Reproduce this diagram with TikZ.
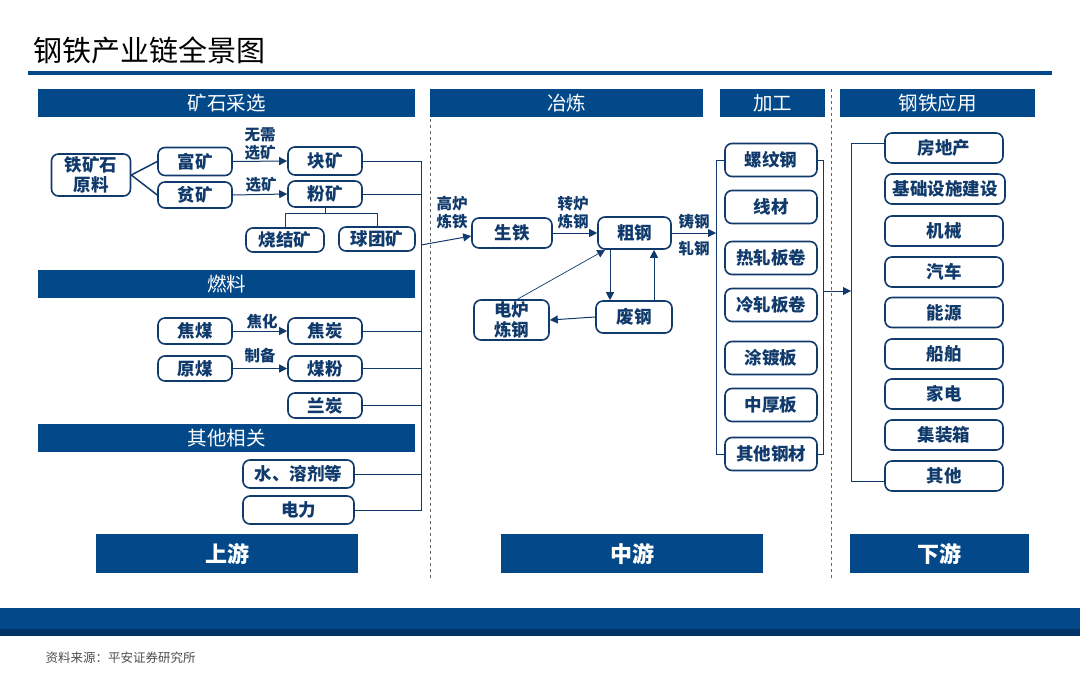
\documentclass[tikz,border=0pt]{standalone}
\usepackage{fontspec}
\newfontfamily\cjk{Noto Sans CJK SC}
\usepackage{tikz}
\usetikzlibrary{calc,arrows.meta}
\definecolor{hdrblue}{RGB}{3,73,138}
\definecolor{deepblue}{RGB}{0,51,102}
\definecolor{lineblue}{RGB}{16,58,107}

\begin{document}
\begin{tikzpicture}[x=1pt,y=-1pt,>={Triangle[length=8pt,width=8pt]},
	hdr/.style={fill=hdrblue,text=white,inner sep=0pt,minimum height=28pt,font=\cjk\fontsize{19.5}{21}\selectfont},
	zone/.style={fill=hdrblue,text=white,inner sep=0pt,minimum height=39pt,font=\cjk\bfseries\fontsize{22}{24}\selectfont},
	bx/.style={draw=lineblue,line width=1.6pt,rounded corners=7pt,fill=white,text=lineblue,inner sep=0pt,minimum width=74pt,minimum height=28pt,align=center,font=\cjk\bfseries\fontsize{17.5}{19.5}\selectfont},
	lbl/.style={text=lineblue,align=center,inner sep=0pt,font=\cjk\bfseries\fontsize{15.5}{18}\selectfont},
	ln/.style={draw=lineblue,line width=1pt}]
			\useasboundingbox (0,0) rectangle (1080,678);
			
			\node[anchor=west,font=\cjk\fontsize{29}{30}\selectfont] (ttl) at (30,50) {钢铁产业链全景图};
			\fill[hdrblue] (28,71) rectangle (1052,75);
			
			\draw[black!60,dashed] (430,89)--(430,578);
			\draw[black!60,dashed] (831,89)--(831,578);
			
			\node[hdr,minimum width=377pt] (hks) at (226.5,103) {矿石采选};
			\node[hdr,minimum width=273pt] (hyl) at (566.5,103) {冶炼};
			\node[hdr,minimum width=105pt] (hjg) at (772.5,103) {加工};
			\node[hdr,minimum width=195pt] (hyy) at (937.5,103) {钢铁应用};
			\node[hdr,minimum width=377pt] (hrl) at (226.5,284) {燃料};
			\node[hdr,minimum width=377pt] (hqt) at (226.5,438) {其他相关};
			
			% 上游
			\coordinate (bus) at (421,161);
			\node[bx,minimum width=79pt,minimum height=42pt] (tks) at (91,175) {铁矿石\\原料};
			\node[bx] (fk) at (195,161.5) {富矿};
			\node[bx,minimum height=26pt] (pk) at (195,195) {贫矿};
			\node[bx] (kk) at (325,161) {块矿};
			\node[bx,minimum height=26pt] (fenk) at (325,194) {粉矿};
			\node[bx,minimum width=78pt,minimum height=24pt] (sjk) at (285,240) {烧结矿};
			\node[bx,minimum width=76pt,minimum height=24pt] (qtk) at (377,239) {球团矿};
			\node[lbl] (lwx) at (260,144) {无需\\选矿};
			\node[lbl] (lxk) at (261,185) {选矿};
			
			\draw[ln,line width=1.5pt] (fk.west) -- (tks.east) -- (pk.west);
			\draw[ln,->] (fk.east) -- (kk.west);
			\draw[ln,->] (pk.east) -- (fenk.west);
			\draw[ln] (fenk.south) -- ++(0,6) coordinate (fz);
			\draw[ln] (sjk.north) |- (fz) -| (qtk.north);
			
			\node[bx,minimum height=26pt] (jm) at (195,331) {焦煤};
			\node[bx,minimum height=26pt] (jt) at (325,331) {焦炭};
			\node[bx,minimum height=25pt] (ym) at (195,368.5) {原煤};
			\node[bx,minimum height=25pt] (mf) at (325,368.5) {煤粉};
			\node[bx,minimum height=25pt] (lt) at (325,405.5) {兰炭};
			\node[lbl] (ljh) at (262,322) {焦化};
			\node[lbl] (lzb) at (260,356) {制备};
			\draw[ln,->] (jm.east) -- (jt.west);
			\draw[ln,->] (ym.east) -- (mf.west);
			
			\node[bx,minimum width=111pt] (shui) at (298.5,474) {水、溶剂等};
			\node[bx,minimum width=111pt] (dl) at (298.5,510) {电力};
			
			\draw[ln] (kk.east) -- (kk.east -| bus) |- (dl.east);
			\foreach \n in {fenk,jt,mf,lt,shui}
				\draw[ln] (\n.east) -- (\n.east -| bus);
			
			% 中游
			\coordinate (bsout) at (421,245);
			\node[bx,minimum width=80pt,minimum height=30pt] (st) at (512,233) {生铁};
			\node[bx,minimum width=73pt,minimum height=32pt] (cg) at (634.5,233) {粗钢};
			\node[bx,minimum width=76pt,minimum height=32pt] (fg) at (634,317) {废钢};
			\node[bx,minimum width=75pt,minimum height=40pt] (dlg) at (511.5,320) {电炉\\炼钢};
			\node[lbl] (lgl) at (452,213) {高炉\\炼铁};
			\node[lbl] (lzl) at (573,213) {转炉\\炼钢};
			\node[lbl] (lzg) at (694,222) {铸钢};
			\node[lbl] (lzhg) at (694,249) {轧钢};
			
			\draw[ln,->] (bsout) -- ($(st.west)+(0,3)$);
			\draw[ln,->] (st.east) -- (cg.west);
			\draw[ln,->] ($(cg.south)+(-24.5,0)$) -- ($(fg.north)+(-24,0)$);
			\draw[ln,->] ($(fg.north)+(20,0)$) -- ($(cg.south)+(19.5,0)$);
			\draw[ln,->] (fg.west) -- (dlg.east);
			\draw[ln,line width=0.7pt,->] ($(dlg.north)+(6,0)$) -- ($(cg.south west)+(8,0)$);
			
			\coordinate (jgin) at (716,236);
			\coordinate (jgout) at (823,291);
			\draw[ln,->] (cg.east) -- (cg.east -| jgin);
			\foreach \nm/\txt/\yy in {lwg/螺纹钢/160,xc/线材/207,rz/热轧板卷/258,lz/冷轧板卷/305,td/涂镀板/358,zh/中厚板/405,qg/其他钢材/454}
				\node[bx,minimum width=92pt,minimum height=33pt] (\nm) at (771,\yy) {\txt};
			\draw[ln] (lwg.west) -- (lwg.west -| jgin) -- (qg.west -| jgin) -- (qg.west);
			\draw[ln] (lwg.east) -- (lwg.east -| jgout) -- (qg.east -| jgout) -- (qg.east);
			
			% 下游
			\coordinate (yyin) at (851,291);
			\draw[ln,->] (jgout) -- (yyin);
			\foreach \nm/\txt/\yy in {fdc/房地产/148,jx/机械/231,qc/汽车/272,ny/能源/312.5,cb/船舶/354,jd/家电/394,jzx/集装箱/435,qtyy/其他/476}
				\node[bx,minimum width=118pt,minimum height=30pt] (\nm) at (944,\yy) {\txt};
			\node[bx,minimum width=120pt,minimum height=30pt] (jc) at (945,189) {基础设施建设};
			\draw[ln] ($(fdc.west)+(0,-5)$) -- ($(fdc.west -| yyin)+(0,-5)$) -- ($(qtyy.west -| yyin)+(0,5)$) -- ($(qtyy.west)+(0,5)$);
			
			\node[zone,minimum width=262pt] (up) at (227,553.5) {上游};
			\node[zone,minimum width=262pt] (mid) at (632,553.5) {中游};
			\node[zone,minimum width=179pt] (down) at (939.5,553.5) {下游};
			
			\fill[hdrblue] (0,608) rectangle (1080,629);
			\fill[deepblue] (0,629) rectangle (1080,636);
			\node[anchor=west,text=black!70,font=\cjk\fontsize{12.5}{14}\selectfont] (src) at (42,658) {资料来源：平安证券研究所};
		\end{tikzpicture}
\end{document}
